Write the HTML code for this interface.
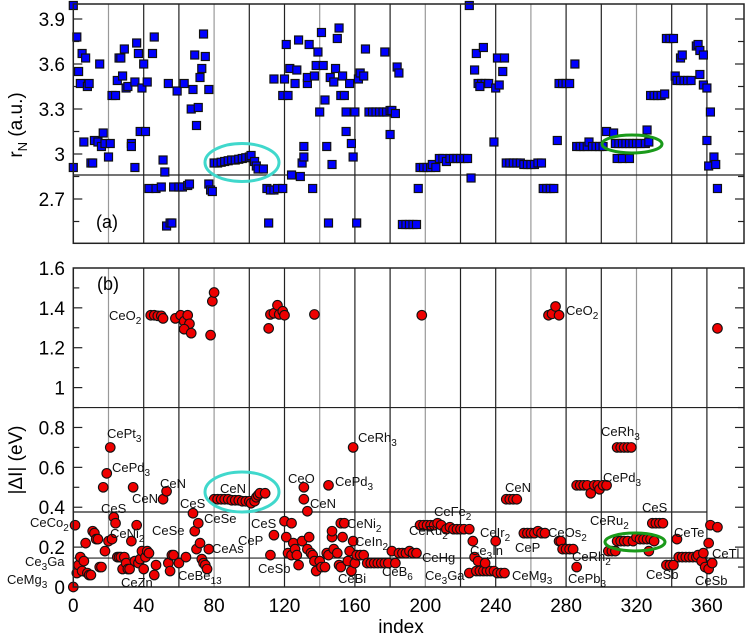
<!DOCTYPE html>
<html><head><meta charset="utf-8"><style>
html,body{margin:0;padding:0;background:#fff;}
svg{display:block;font-family:"Liberation Sans",sans-serif;}
</style></head><body>
<svg id="chart" width="747" height="639" viewBox="0 0 747 639" xmlns="http://www.w3.org/2000/svg">
<g id="grid"></g>
<g id="hlines"></g>
<g id="ticks"></g>
<g id="marksA"></g>
<g id="marksB"></g>
<rect x="73.3" y="4" width="670.7" height="239.3" fill="none" stroke="#222" stroke-width="1.5"/>
<rect x="73.3" y="268" width="670.7" height="319" fill="none" stroke="#222" stroke-width="1.5"/>
<ellipse cx="242" cy="162.5" rx="37" ry="19" fill="none" stroke="#40d8cc" stroke-width="3"/>
<ellipse cx="632" cy="144" rx="30" ry="9" fill="none" stroke="#1a9a1a" stroke-width="3"/>
<ellipse cx="242" cy="492" rx="37" ry="20" fill="none" stroke="#40d8cc" stroke-width="3"/>
<ellipse cx="635" cy="542" rx="30" ry="9" fill="none" stroke="#1a9a1a" stroke-width="3"/>
<g id="labels" font-size="13" fill="#111"></g>
<text x="96" y="228" font-size="18">(a)</text>
<text x="97" y="290" font-size="18">(b)</text>
<text x="401" y="633" font-size="19" text-anchor="middle">index</text>
<text transform="translate(22,125) rotate(-90)" font-size="19" text-anchor="middle">r<tspan font-size="13" dy="5">N</tspan><tspan dy="-5"> (a.u.)</tspan></text>
<text transform="translate(22,460) rotate(-90)" font-size="19" text-anchor="middle">|ΔI| (eV)</text>
</svg>
<script>
const idxA=[0,0,2,3,4,5,6,7,8,9,10,11,12,14,15,16,17,18,20,21,22,24,25,26,27,28,29,30,31,33,33,35,35,36,37,38,39,40,41,42,43,45,46,47,50,51,52,53,55,56,54,57,59,60,62,63,65,66,68,67,69,70,71,72,73,74,75,77,77,78,79,80,82,84,86,88,90,92,94,96,98,100,101,103,104,105,108,110,111,112,114,116,119,114,119,120,121,122,123,124,126,127,128,129,130,131,131,133,133,134,136,137,138,139,140,141,142,143,144,145,146,147,148,149,150,151,152,153,154,155,155,157,158,159,160,161,162,163,165,166,168,170,172,174,176,178,180,181,183,177,180,184,185,187,189,191,193,195,196,197,199,201,203,204,206,208,210,212,214,216,218,220,222,224,225,226,228,229,233,230,232,234,236,231,239,240,241,242,244,245,246,248,250,252,254,256,258,260,262,264,266,267,269,271,273,275,276,278,280,282,285,286,288,290,292,293,295,297,299,301,303,307,308,310,312,314,316,318,320,322,325,309,312,316,326,327,328,330,332,334,336,337,339,341,342,343,345,347,349,351,345,346,354,355,356,358,356,358,360,362,360,364,361,365,366];
const rN=[3.99,2.91,3.78,3.55,3.47,3.67,3.08,3.64,3.45,3.47,2.94,2.94,3.09,3.08,3.60,3.05,3.14,3.07,2.98,3.07,3.39,3.39,3.49,3.64,3.64,3.52,3.70,3.44,3.45,3.07,3.05,3.48,2.91,3.74,3.67,3.15,3.44,3.60,3.15,3.48,2.77,3.67,3.78,2.77,2.78,2.96,2.88,2.52,2.54,2.54,3.47,2.78,3.42,2.78,2.78,3.47,2.79,2.80,3.43,3.30,3.66,3.19,3.31,3.51,3.57,3.80,3.65,3.43,2.80,2.76,2.75,2.94,2.94,2.945,2.95,2.955,2.96,2.96,2.965,2.97,2.975,2.98,2.99,2.95,2.92,2.90,2.90,2.77,2.54,2.76,2.76,2.77,2.77,3.50,3.39,3.50,3.73,3.39,3.57,2.86,3.47,3.56,3.76,2.85,2.94,2.98,3.05,3.47,3.51,3.73,2.77,3.52,3.59,3.68,3.28,3.81,3.59,3.36,3.05,2.54,3.51,2.93,3.48,3.57,3.77,3.84,3.39,3.52,3.39,3.28,3.15,3.47,3.07,2.98,3.28,2.54,3.50,3.54,3.52,3.70,3.28,3.28,3.28,3.28,3.28,3.28,3.29,3.29,3.27,3.68,3.13,3.58,3.54,2.53,2.53,2.53,2.53,2.53,2.77,2.91,2.91,2.91,2.91,2.93,2.91,2.97,2.97,2.95,2.97,2.97,2.97,2.97,2.97,2.97,3.99,2.84,3.56,3.67,3.71,3.47,3.47,3.47,3.47,3.45,3.08,3.44,3.64,3.46,3.55,3.64,2.94,2.94,2.94,2.94,2.94,2.93,2.93,2.93,2.93,2.94,2.94,2.77,2.77,2.77,2.77,3.09,3.47,3.47,3.47,3.47,3.60,3.05,3.05,3.05,3.05,3.08,3.05,3.05,3.05,3.05,3.15,3.14,3.07,3.07,3.07,3.07,3.07,3.07,3.07,3.07,3.07,2.97,2.97,2.97,3.16,3.08,3.39,3.39,3.39,3.39,3.40,3.77,3.77,3.77,3.52,3.49,3.49,3.49,3.49,3.49,3.64,3.66,3.72,3.73,3.69,3.66,3.53,3.46,3.44,3.28,3.09,2.98,2.92,2.93,2.77];
const idxB=[0,1,2,3,4,5,6,7,8,9,10,11,12,13,14,15,16,17,18,19,20,21,22,23,24,25,26,27,28,29,30,31,32,33,34,35,36,37,38,39,40,41,42,43,46,47,51,53,54,55,56,57,60,64,68,69,70,71,72,73,74,75,76,77,80,82,84,86,88,90,92,94,96,98,100,101,103,104,105,106,109,112,114,120,121,122,124,124,125,126,127,128,130,131,131,133,133,134,135,136,137,138,140,141,143,144,145,145,147,147,148,150,151,152,152,153,154,156,157,158,159,159,160,161,163,165,167,169,171,173,175,177,179,181,183,185,187,189,191,193,195,197,199,201,203,205,207,209,212,214,216,218,220,222,225,227,228,230,225,229,231,233,235,237,239,234,240,241,243,245,246,248,250,252,256,258,260,262,264,266,268,276,277,278,280,282,284,286,286,288,290,292,294,296,298,299,301,303,304,306,308,309,311,313,315,317,309,311,313,315,318,320,322,324,326,328,330,327,329,331,333,335,337,339,341,343,344,346,348,350,352,354,355,357,358,359,361,361,363,362,366,44,46,48,50,51,58,61,63,65,66,63,67,78,79,80,111,112,114,116,117,119,120,137,198,270,272,274,276,366];
const dI=[0.00,0.31,0.07,0.11,0.15,0.08,0.13,0.22,0.07,0.06,0.06,0.28,0.27,0.24,0.24,0.10,0.10,0.50,0.18,0.57,0.23,0.70,0.24,0.35,0.32,0.15,0.15,0.15,0.09,0.15,0.12,0.09,0.09,0.23,0.50,0.13,0.31,0.12,0.14,0.18,0.09,0.15,0.18,0.17,0.06,0.11,0.44,0.48,0.12,0.08,0.16,0.16,0.12,0.15,0.37,0.28,0.19,0.32,0.22,0.14,0.12,0.11,0.09,0.19,0.44,0.44,0.44,0.44,0.44,0.435,0.435,0.435,0.43,0.43,0.43,0.42,0.43,0.45,0.46,0.47,0.47,0.16,0.26,0.33,0.25,0.17,0.32,0.16,0.22,0.19,0.16,0.11,0.23,0.44,0.50,0.38,0.19,0.25,0.17,0.16,0.13,0.08,0.13,0.10,0.10,0.17,0.51,0.16,0.25,0.28,0.19,0.17,0.11,0.10,0.32,0.25,0.32,0.13,0.18,0.08,0.23,0.70,0.12,0.16,0.16,0.16,0.12,0.12,0.12,0.12,0.12,0.12,0.12,0.18,0.12,0.17,0.17,0.17,0.18,0.17,0.17,0.31,0.31,0.31,0.31,0.31,0.32,0.31,0.29,0.30,0.29,0.29,0.29,0.29,0.29,0.23,0.15,0.13,0.07,0.08,0.08,0.08,0.08,0.08,0.08,0.12,0.23,0.07,0.07,0.07,0.44,0.44,0.44,0.44,0.27,0.27,0.27,0.27,0.28,0.27,0.27,0.23,0.23,0.19,0.19,0.19,0.19,0.10,0.51,0.51,0.51,0.51,0.47,0.51,0.51,0.49,0.51,0.51,0.18,0.18,0.18,0.70,0.70,0.70,0.70,0.70,0.23,0.23,0.23,0.23,0.23,0.25,0.24,0.24,0.24,0.24,0.23,0.18,0.32,0.32,0.32,0.32,0.11,0.11,0.11,0.24,0.15,0.15,0.15,0.15,0.15,0.15,0.16,0.13,0.17,0.10,0.09,0.22,0.12,0.31,0.30,1.363,1.363,1.36,1.36,1.347,1.347,1.363,1.333,1.363,1.32,1.293,1.273,1.263,1.433,1.477,1.297,1.367,1.373,1.413,1.367,1.383,1.363,1.367,1.363,1.363,1.37,1.407,1.363,1.297];
const xTicks=[0,40,80,120,160,200,240,280,320,360];
const yTicksA=[2.7,3,3.3,3.6,3.9];
const yTickLabelsA=["2.7","3","3.3","3.6","3.9"];
const yTicksB=[0,0.2,0.4,0.6,0.8,1,1.2,1.4,1.6];
const yTickLabelsB=["0","0.2","0.4","0.6","0.8","1","1.2","1.4","1.6"];
const refA=[2.86];
const refB=[0.9,0.376,0.145];
const compounds=["CeO2","CeO2","CePt3","CePd3","CeN","CeN","CeS","CeCo2","CeNi2","CeSe","CeS","CeSe","CeAs","Ce3Ga","CeMg3","CeZn","CeBe13","CeN","CeS","CeP","CeSb","CeO","CeN","CePd3","CeRh3","CeNi2","CeIn2","CeBi","CeFe2","CeRu2","CeHg","CeB6","Ce3Ga","CeIr2","Ce3In","CeMg3","CeN","CeP","CeOs2","CeRh2","CePb3","CeRu2","CeRh3","CePd3","CeS","CeTe","CeTl","CeSb","CeSb"];
const labelPos=[[109,320],[566,315],[107,438],[112,472],[160,488],[132,503],[101,513],[30,527],[110,538],[152,535],[180,508],[204,523],[212,553],[25,566],[7,584],[121,587],[178,580],[220,493],[251,528],[238,545],[258,573],[288,483],[310,508],[335,486],[358,442],[347,528],[355,546],[338,583],[434,516],[409,535],[422,562],[382,576],[425,580],[480,537],[470,555],[512,580],[505,492],[515,552],[548,537],[572,561],[568,583],[590,525],[601,436],[603,482],[642,512],[674,537],[712,558],[646,579],[695,585]];

const NS="http://www.w3.org/2000/svg";
const X0=73.3, PX=1.76;
const xs=i=>X0+i*PX;
const yA=v=>19+(3.9-v)*150;
const yB=v=>587-v*199.4;
function mk(tag,attrs,parent){const e=document.createElementNS(NS,tag);for(const k in attrs)e.setAttribute(k,attrs[k]);parent.appendChild(e);return e;}
const grid=document.getElementById('grid');
for(let k=1;k<=18;k++){
  const col=((k-1)%3===0)?'#999':'#222';
  for(const [a,b] of [[4,243.3],[268,587]]){
    const l=mk('line',{x1:xs(20*k),x2:xs(20*k),y1:a,y2:b,stroke:col,'stroke-width':1.2},grid);
    
    
  }
}
const hl=document.getElementById('hlines');
refA.forEach(v=>{const l=mk('line',{x1:X0,x2:744,y1:yA(v),y2:yA(v),stroke:'#222','stroke-width':1.2},hl);
  });
refB.forEach((v,i)=>{const l=mk('line',{x1:X0,x2:(i===1?xs(360):744),y1:yB(v),y2:yB(v),stroke:'#222','stroke-width':1.2},hl);
  });
const tk=document.getElementById('ticks');
xTicks.forEach(t=>{const e=mk('text',{x:xs(t),y:612,'font-size':19,'text-anchor':'middle'},tk);e.textContent=t;
  });
yTicksA.forEach((t,i)=>{const e=mk('text',{x:65,y:yA(t)+7,'font-size':19,'text-anchor':'end'},tk);e.textContent=yTickLabelsA[i];
  });
for(let v=2.4;v<=4.0;v+=0.15){const y=yA(v);if(y<5||y>242)continue;
  const big=Math.abs(((v-2.7)/0.3)-Math.round((v-2.7)/0.3))<0.01;const L=big?9:6;
  mk('line',{x1:X0,x2:X0+L,y1:y,y2:y,stroke:'#222','stroke-width':1.2},tk);
  mk('line',{x1:744-L,x2:744,y1:y,y2:y,stroke:'#222','stroke-width':1.2},tk);}
yTicksB.forEach((t,i)=>{const e=mk('text',{x:65,y:yB(t)+7,'font-size':19,'text-anchor':'end'},tk);e.textContent=yTickLabelsB[i];
  });
for(let v=0.1;v<1.6;v+=0.1){const y=yB(v);const L=(Math.round(v*10)%2===0)?9:6;
  mk('line',{x1:X0,x2:X0+L,y1:y,y2:y,stroke:'#222','stroke-width':1.2},tk);
  mk('line',{x1:744-L,x2:744,y1:y,y2:y,stroke:'#222','stroke-width':1.2},tk);}
const gA=document.getElementById('marksA');
for(let i=0;i<Math.min(idxA.length,rN.length);i++){
  const r=mk('rect',{x:xs(idxA[i])-4,y:yA(rN[i])-4,width:8,height:8,fill:'#0000ff',stroke:'#111','stroke-width':1.2},gA);
  
  
}
const gB=document.getElementById('marksB');
for(let i=0;i<Math.min(idxB.length,dI.length);i++){
  const c=mk('circle',{cx:xs(idxB[i]),cy:yB(dI[i]),r:4.8,fill:'#ee0000',stroke:'#111','stroke-width':1.1},gB);
  
  
}
const gl=document.getElementById('labels');
compounds.forEach((c,i)=>{
  const t=mk('text',{x:labelPos[i][0],y:labelPos[i][1]},gl);
  
  
  const parts=c.match(/[A-Za-z]+|\d+/g);
  let sub=false;
  parts.forEach(p=>{const s=document.createElementNS(NS,'tspan');
    if(/\d/.test(p)){s.setAttribute('font-size','10');s.setAttribute('dy','4');sub=true;}
    else if(sub){s.setAttribute('dy','-4');sub=false;}
    s.textContent=p;t.appendChild(s);});
});
</script>
</body></html>
